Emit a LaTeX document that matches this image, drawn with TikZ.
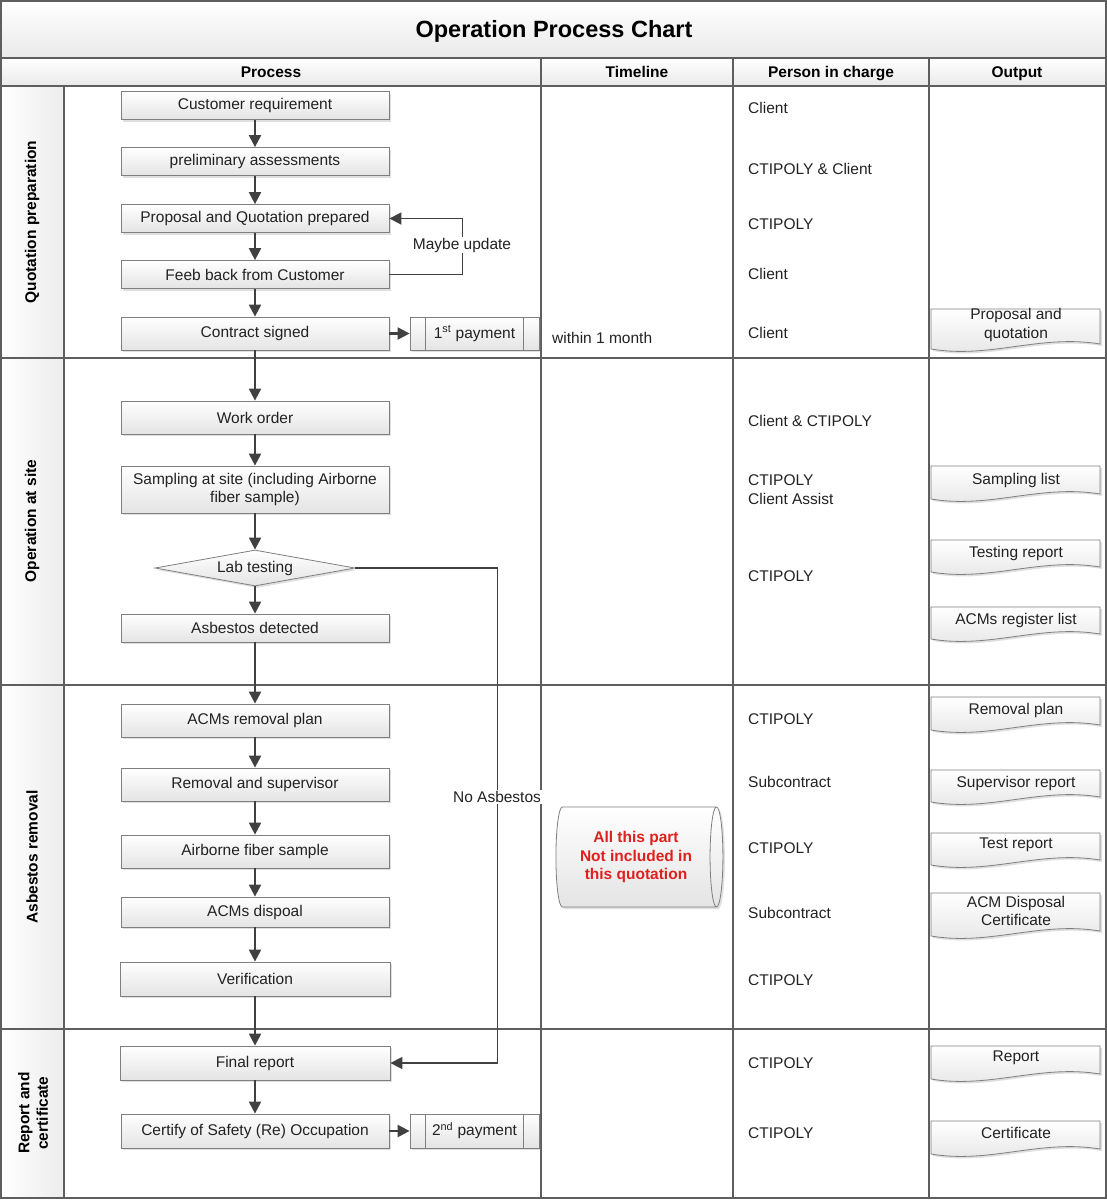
\documentclass[tikz,border=0pt]{standalone}
\usepackage{fontspec}
\setmainfont{Liberation Sans}
\usetikzlibrary{arrows.meta,shapes.geometric,shadows}
\definecolor{framegray}{HTML}{5E5E5E}
\definecolor{boxline}{HTML}{7F7F7F}
\definecolor{boxgray}{HTML}{E4E4E4}
\definecolor{flowgray}{HTML}{404040}
\definecolor{textcol}{HTML}{222222}
\definecolor{warnred}{HTML}{E0201E}
\tikzset{
    basefont/.style={font=\fontsize{15.5}{18.5}\selectfont, text=textcol},
    boldfont/.style={font=\bfseries\fontsize{15.5}{18.5}\selectfont, text=black},
    frame/.style={draw=framegray, line width=1.2pt},
    stepbox/.style={basefont, rectangle, draw=boxline, line width=0.8pt,
        top color=white, bottom color=boxgray, align=center,
        minimum width=268pt, minimum height=28pt, inner sep=2pt,
        drop shadow={opacity=0.25, shadow xshift=2pt, shadow yshift=-2pt}},
    paybox/.style={stepbox, minimum width=129pt, minimum height=33pt},
    decision/.style={basefont, diamond, draw=boxline, line width=0.8pt,
        top color=white, bottom color=boxgray, aspect=5.5, inner sep=0pt,
        minimum width=200pt, minimum height=36pt,
        drop shadow={opacity=0.25, shadow xshift=2pt, shadow yshift=-2pt}},
    docshape/.style={draw=boxline, line width=0.8pt, top color=white, bottom color=boxgray,
        drop shadow={opacity=0.25, shadow xshift=2pt, shadow yshift=-2pt}},
    flow/.style={draw=flowgray, line width=2.2pt, -{Triangle[length=12pt,width=12pt]}},
    loopline/.style={draw=flowgray, line width=1.6pt, -{Triangle[length=12pt,width=12pt]}},
    lbl/.style={basefont, fill=white, inner sep=1pt},
    headtxt/.style={boldfont, anchor=base, inner sep=0pt},
    persontxt/.style={basefont, anchor=west, align=left, inner sep=0pt},
    outtxt/.style={basefont, align=center, inner sep=0pt},
    lanetxt/.style={boldfont, rotate=90, align=center, inner sep=0pt},
}
\begin{document}
\begin{tikzpicture}[x=1pt,y=-1pt]
    \useasboundingbox (0,0) rectangle (1107,1200);
    %% table
    \shade[top color=white, bottom color=boxgray!80] (1,1) rectangle (1106,58);
    \shade[top color=white, bottom color=boxgray!80] (1,58) rectangle (1106,86);
    \shade[left color=white, right color=boxgray!70] (1,86) rectangle (64,1198);
    \draw[frame] (1,1) rectangle (1106,1198);
    \draw[frame] (1,58) -- (1106,58);
    \draw[frame] (1,86) -- (1106,86);
    \foreach \y in {358,685,1029}
        \draw[frame] (1,\y) -- (1106,\y);
    \draw[frame] (64,86) -- (64,1198);
    \foreach \x in {541,733,929}
        \draw[frame] (\x,58) -- (\x,1198);
    \node[font=\bfseries\fontsize{23.5}{28}\selectfont, anchor=base, inner sep=0pt] (title) at (554,37) {Operation Process Chart};
    \node[headtxt] (hproc) at (271,77) {Process};
    \node[headtxt] (htime) at (637,77) {Timeline};
    \node[headtxt] (hpers) at (831,77) {Person in charge};
    \node[headtxt] (hout) at (1017,77) {Output};
    %% lanes
    \node[lanetxt] (laneq) at (32,222) {Quotation preparation};
    \node[lanetxt] (laneo) at (32,521) {Operation at site};
    \node[lanetxt] (lanea) at (32,857) {Asbestos removal};
    \node[lanetxt] (laner) at (33,1113) {Report and\\certificate};
    %% process steps
    \node[stepbox] (creq) at (255,105.5) {Customer requirement};
    \node[stepbox] (prelim) at (255,161.5) {preliminary assessments};
    \node[stepbox] (prop) at (255,218.5) {Proposal and Quotation prepared};
    \node[stepbox] (feed) at (255,274.5) {Feeb back from Customer};
    \node[stepbox, minimum height=33pt] (contr) at (255,333.5) {Contract signed};
    \node[paybox] (pay1) at (474.5,333.5) {1\textsuperscript{st} payment};
    \node[stepbox, minimum height=33pt] (work) at (255,417.5) {Work order};
    \node[stepbox, minimum height=47pt] (samp) at (255,489.5) {Sampling at site (including Airborne\\fiber sample)};
    \node[decision] (lab) at (255,568) {Lab testing};
    \node[stepbox] (asb) at (255,628) {Asbestos detected};
    \node[stepbox, minimum height=33pt] (plan) at (255,720.5) {ACMs removal plan};
    \node[stepbox, minimum height=33pt] (remov) at (255,784.5) {Removal and supervisor};
    \node[stepbox, minimum height=33pt] (airb) at (255,851.5) {Airborne fiber sample};
    \node[stepbox, minimum height=30pt] (disp) at (255,912) {ACMs dispoal};
    \node[stepbox, minimum height=34pt, minimum width=270pt] (verif) at (255,979) {Verification};
    \node[stepbox, minimum height=34pt, minimum width=270pt] (final) at (255,1063) {Final report};
    \node[stepbox, minimum height=34pt] (cert) at (255,1131) {Certify of Safety (Re) Occupation};
    \node[paybox, minimum height=34pt] (pay2) at (474.5,1131) {2\textsuperscript{nd} payment};
    \foreach \p in {pay1,pay2} {
        \draw[boxline, line width=0.8pt] ([xshift=16pt]\p.north west) -- ([xshift=16pt]\p.south west);
        \draw[boxline, line width=0.8pt] ([xshift=-16pt]\p.north east) -- ([xshift=-16pt]\p.south east);
    }
    %% flow
    \draw[flow] (creq) -- (prelim);
    \draw[flow] (prelim) -- (prop);
    \draw[flow] (prop) -- (feed);
    \draw[flow] (feed) -- (contr);
    \draw[flow] (contr) -- (work);
    \draw[flow] (contr) -- (pay1);
    \draw[flow] (work) -- (samp);
    \draw[flow] (samp) -- (lab);
    \draw[flow] (lab) -- (asb);
    \draw[flow] (asb) -- (plan);
    \draw[flow] (plan) -- (remov);
    \draw[flow] (remov) -- (airb);
    \draw[flow] (airb) -- (disp);
    \draw[flow] (disp) -- (verif);
    \draw[flow] (verif) -- (final);
    \draw[flow] (final) -- (cert);
    \draw[flow] (cert) -- (pay2);
    \draw[loopline] (feed.east) -- ++(73,0) |- (prop.east);
    \node[lbl] (upd) at (462,245) {Maybe update};
    \draw[loopline] (lab.east) -- ++(142,0) |- (final.east);
    \node[lbl] (noasb) at (497,797) {No Asbestos};
    %% timeline
    \node[persontxt] (tmonth) at (552,338) {within 1 month};
    \node[cylinder, shape aspect=0.25, draw=boxline, line width=0.8pt,
        top color=white, bottom color=boxgray, minimum width=100pt, minimum height=167pt,
        align=center, font=\bfseries\fontsize{15.5}{18.5}\selectfont, text=warnred,
        inner sep=0pt,
        drop shadow={opacity=0.25, shadow xshift=2pt, shadow yshift=-2pt}]
        (notinc) at (636,857) {All this part\\Not included in\\this quotation};
    %% person in charge
    \foreach \n/\y/\txt in {pa/108/Client, pb/169/CTIPOLY \& Client, pc/224/CTIPOLY,
            pd/274/Client, pe/333/Client, pf/421/Client \& CTIPOLY,
            pg/489.5/{CTIPOLY\\Client Assist}, ph/576/CTIPOLY, pi/719/CTIPOLY,
            pj/782/Subcontract, pk/848/CTIPOLY, pl/913/Subcontract, pm/980/CTIPOLY,
            pn/1063/CTIPOLY, po/1133/CTIPOLY}
        \node[persontxt] (\n) at (748,\y) {\txt};
    %% output documents
    \foreach \n/\yt/\yb/\yc/\txt in {oa/309/350/325/{Proposal and\\quotation},
            ob/466/500/480/Sampling list, oc/540/573/553/Testing report,
            od/607/640/620/ACMs register list, oe/697/731/710/Removal plan,
            of/770/803/783/Supervisor report, og/833/866/845/Test report,
            oh/893/937/911/{ACM Disposal\\Certificate}, oi/1046/1080/1058/Report,
            oj/1121/1155/1133/Certificate} {
        \draw[docshape] (931,\yt) -- (1100,\yt) -- (1100,\yb-6)
            .. controls (1040,\yb-16) and (990,\yb+9) .. (931,\yb-1) -- cycle;
        \node[outtxt] (\n) at (1016,\yc) {\txt};
    }
\end{tikzpicture}
\end{document}
